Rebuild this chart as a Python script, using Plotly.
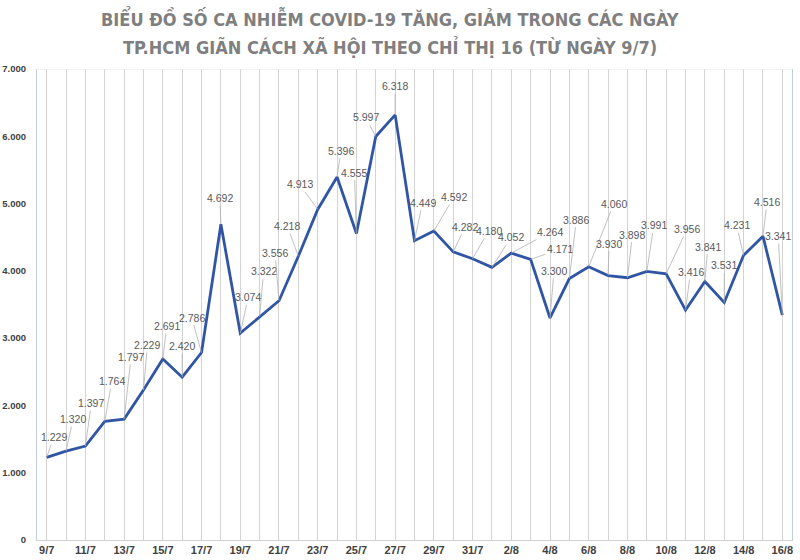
import plotly.graph_objects as go

dates = ["9/7", "10/7", "11/7", "12/7", "13/7", "14/7", "15/7", "16/7", "17/7", "18/7",
         "19/7", "20/7", "21/7", "22/7", "23/7", "24/7", "25/7", "26/7", "27/7", "28/7",
         "29/7", "30/7", "31/7", "1/8", "2/8", "3/8", "4/8", "5/8", "6/8", "7/8",
         "8/8", "9/8", "10/8", "11/8", "12/8", "13/8", "14/8", "15/8", "16/8"]
cases = [1229, 1320, 1397, 1764, 1797, 2229, 2691, 2420, 2786, 4692,
         3074, 3322, 3556, 4218, 4913, 5396, 4555, 5997, 6318, 4449,
         4592, 4282, 4180, 4052, 4264, 4171, 3300, 3886, 4060, 3930,
         3898, 3991, 3956, 3416, 3841, 3531, 4231, 4516, 3341]
y_ticks = [0, 1000, 2000, 3000, 4000, 5000, 6000, 7000]

# label offsets in pixels (styling only)
label_offsets = [(7, -20), (7, -32), (6, -43), (7, -40), (7, -62), (4, -45), (4, -33), (0, -31),
                 (-10, -35), (-1, -26), (8, -36), (4, -45), (-4, -48), (-11, -30), (-18, -25),
                 (4, -26), (-2, -61), (-10, -19), (0, -29), (8, -38), (20, -34), (12, -25),
                 (16, -28), (19, -30), (39, -21), (29, -10), (4, -47), (7, -59), (25, -63),
                 (1, -32), (5, -43), (7, -46), (21, -45), (5, -38), (3, -35), (0, -37),
                 (-7, -30), (4, -34), (-4, -79)]

def fmt(v):
    return f"{v:,}".replace(",", ".")

idx = list(range(len(dates)))

fig = go.Figure()
fig.add_trace(go.Scatter(x=idx, y=cases, mode="lines",
                         line=dict(color="#2F55A4", width=2.8), hoverinfo="skip"))

annotations = []
for i, v in enumerate(cases):
    ax, ay = label_offsets[i]
    annotations.append(dict(x=i, y=v, xref="x", yref="y", text=fmt(v),
                            showarrow=True, arrowhead=0, arrowwidth=0.8,
                            arrowcolor="#b0b0b0", ax=ax, ay=ay, standoff=0,
                            font=dict(family="Liberation Sans, Arial", size=10.5, color="#595959")))

title_font = dict(family="DejaVu Sans Condensed, DejaVu Sans", size=18, color="#7F7F7F")
annotations.append(dict(text="<b>BIỂU ĐỒ SỐ CA NHIỄM COVID-19 TĂNG, GIẢM TRONG CÁC NGÀY</b>",
                        xref="paper", yref="paper", x=0.4675, y=(540 - 18) / 471,
                        showarrow=False, font=title_font, xanchor="center", yanchor="middle"))
annotations.append(dict(text="<b>TP.HCM GIÃN CÁCH XÃ HỘI THEO CHỈ THỊ 16 (TỪ NGÀY 9/7)</b>",
                        xref="paper", yref="paper", x=0.4675, y=(540 - 47) / 471,
                        showarrow=False, font=title_font, xanchor="center", yanchor="middle"))

fig.update_layout(
    width=800, height=560,
    margin=dict(l=37, r=8, t=69, b=20),
    paper_bgcolor="white", plot_bgcolor="white",
    separators=",.",
    showlegend=False,
    annotations=annotations,
)
fig.update_xaxes(
    range=[-0.5, len(dates) - 0.5],
    automargin=False,
    tickmode="array", tickvals=idx[::2], ticktext=dates[::2],
    showgrid=True, gridcolor="#D3D3D3", gridwidth=1,
    minor=dict(tickmode="array", tickvals=idx[1::2], showgrid=True,
               gridcolor="#D3D3D3", gridwidth=1),
    showline=True, linecolor="#D0D0D0", mirror=False,
    zeroline=False,
    tickfont=dict(family="Liberation Sans, Arial", size=11, color="#404040", weight="bold"),
)
fig.update_yaxes(
    range=[0, 7000],
    automargin=False,
    tickmode="array", tickvals=y_ticks, tickformat=",d",
    showgrid=False, zeroline=False,
    showline=True, linecolor="#C2CFE6", mirror=True,
    ticklabelstandoff=8,
    tickfont=dict(family="Liberation Sans, Arial", size=9.5, color="#404040", weight="bold"),
)
fig.add_shape(type="line", xref="paper", yref="y", x0=0, x1=1, y0=7000, y1=7000,
              line=dict(color="#EBEBEB", width=1))

fig.write_html("out.html")
